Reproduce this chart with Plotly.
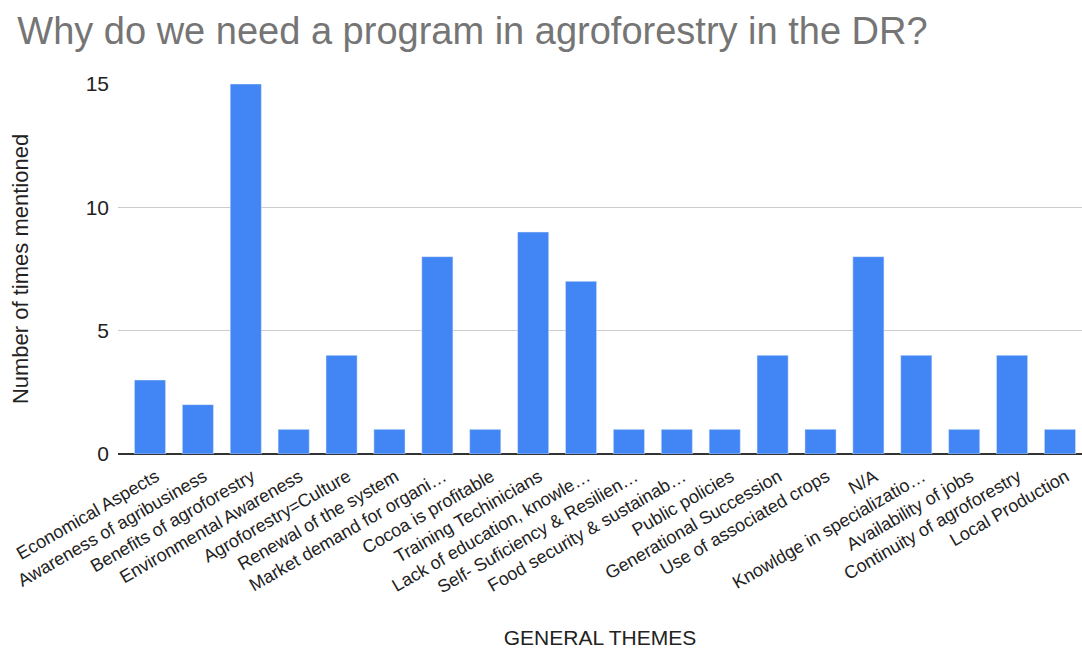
import plotly.graph_objects as go

categories = [
    "Economical Aspects", "Awareness of agribusiness", "Benefits of agroforestry",
    "Environmental Awareness", "Agroforestry=Culture", "Renewal of the system",
    "Market demand for organi…", "Cocoa is profitable", "Training Techinicians",
    "Lack of education, knowle…", "Self- Suficiency & Resilien…", "Food security & sustainab…",
    "Public policies", "Generational Succession", "Use of associated crops", "N/A",
    "Knowldge in specializatio…", "Availability of jobs", "Continuity of agroforestry",
    "Local Production",
]
values = [3, 2, 15, 1, 4, 1, 8, 1, 9, 7, 1, 1, 1, 4, 1, 8, 4, 1, 4, 1]
y_ticks = [0, 5, 10, 15]

fig = go.Figure(go.Bar(x=categories, y=values, marker_color="#4285F4", width=0.65))

fig.update_layout(
    width=1082, height=649,
    margin=dict(l=118, r=0, t=84, b=195),
    paper_bgcolor="white", plot_bgcolor="white",
    font=dict(family="Liberation Sans, Arial", color="#222222"),
    title=dict(text="Why do we need a program in agroforestry in the DR?",
               x=0.016, xanchor="left", y=0.953, yanchor="middle",
               font=dict(size=38, color="#757575")),
    showlegend=False,
)
fig.update_xaxes(
    range=[-0.668, 19.46],
    tickangle=-30, tickfont=dict(size=18, color="#222222"),
    title=dict(text="GENERAL THEMES", font=dict(size=21, color="#222222"), standoff=34),
    showgrid=False, ticks="", automargin=False, ticklabelstandoff=8, ticklabelshift=6,
)
fig.update_yaxes(
    range=[0, 15], tickvals=y_ticks, tickfont=dict(size=21, color="#222222"),
    gridcolor="#CCCCCC", zeroline=True, zerolinecolor="#333333", zerolinewidth=1.5,
    title=dict(text="Number of times mentioned", font=dict(size=22, color="#222222"), standoff=50),
    ticks="", ticklabelstandoff=8, automargin=False,
)

fig.write_html("out.html")
